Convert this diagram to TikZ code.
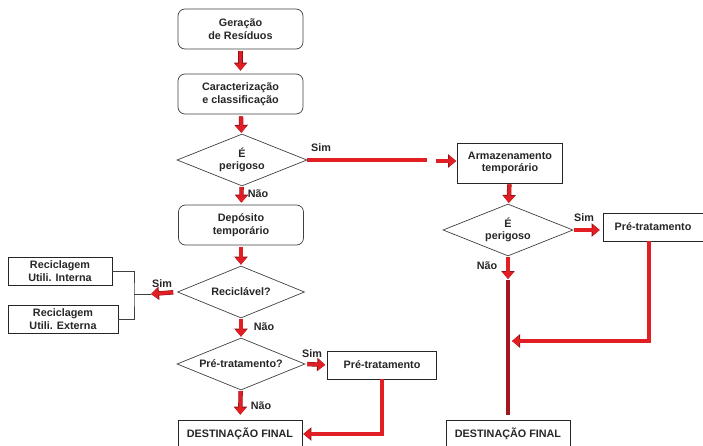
\documentclass[tikz,border=0pt]{standalone}
\usepackage{fontspec}
\setmainfont{Liberation Sans}
\usetikzlibrary{arrows.meta,shapes.geometric}
\definecolor{arrred}{RGB}{224,30,36}
\definecolor{arredge}{RGB}{140,18,22}
\definecolor{darkbar}{RGB}{160,24,30}

\tikzset{
  txt/.style={font=\bfseries\fontsize{10.8}{12.5}\selectfont, text=black!85},
  rbox/.style={txt, draw=black!75, line width=0.7pt, rounded corners=7pt, minimum width=125pt, minimum height=40pt, align=center, inner sep=1pt},
  sbox/.style={txt, draw=black!85, line width=0.7pt, minimum height=28pt, align=center, inner sep=1pt},
  dec/.style={txt, draw=black!75, line width=0.7pt, diamond, aspect=2.5, minimum width=130pt, minimum height=52pt, align=center, inner sep=0pt},
  redarr/.style={draw=arrred, line width=3.4pt, -{Triangle[length=7pt,width=11pt]},
    preaction={draw=arredge, line width=4.4pt, -{Triangle[length=8pt,width=13pt]}}},
  redbar/.style={draw=arrred, line width=3.4pt, preaction={draw=arredge, line width=4.4pt}},
}

\begin{document}
\begin{tikzpicture}[x=1pt,y=-1pt,line join=miter]
\useasboundingbox (0,0) rectangle (703,446);

% coluna da esquerda
\node[rbox] (ger) at (240.5,29) {Geração\\de Resíduos};
\node[rbox] (car) at (240.5,94) {Caracterização\\e classificação};
\node[dec] (per1) at (242,160) {É\\perigoso};
\node[rbox] (dep) at (241,225) {Depósito\\temporário};
\node[dec, minimum width=127pt] (recq) at (241,292) {Reciclável?};
\node[dec, minimum width=128pt] (preq) at (241,364) {Pré-tratamento?};
\node[sbox, minimum width=109pt] (pre1) at (382,365) {Pré-tratamento};
\node[sbox, minimum width=124pt, minimum height=28pt] (dest1) at (240,434) {DESTINAÇÃO FINAL};
\node[sbox, minimum width=104pt] (rin) at (60,271) {Reciclagem\\Utili. Interna};
\node[sbox, minimum width=110pt] (rex) at (63,319) {Reciclagem\\Utili. Externa};

% coluna da direita
\node[sbox, minimum width=105pt, minimum height=40pt] (arm) at (510,163) {Armazenamento\\temporário};
\node[dec] (per2) at (508,230) {É\\perigoso};
\node[sbox, minimum width=100pt] (pre2) at (653,227) {Pré-tratamento};
\node[sbox, minimum width=124pt, minimum height=28pt] (dest2) at (508,434) {DESTINAÇÃO FINAL};

% rotulos
\node[txt] (s1) at (321,148) {Sim};
\node[txt] (n1) at (258,194) {Não};
\node[txt] (s3) at (162,284) {Sim};
\node[txt] (n3) at (264,327) {Não};
\node[txt] (s4) at (312,354) {Sim};
\node[txt] (n4) at (261,406) {Não};
\node[txt] (s2) at (584,218) {Sim};
\node[txt] (n2) at (487,266) {Não};

\coordinate (barend) at (427,160);
\coordinate (armin) at (436,161);
\coordinate (brk) at (134,294);
\coordinate (simtail) at (151,294);
\coordinate (naoend) at (508,279);
\coordinate (mrg) at (512,341);

% setas
\draw[redarr, shorten <=2pt, shorten >=3pt] (ger) -- (car);
\draw[redarr, shorten <=2pt, shorten >=1pt] (car) -- (per1);
\draw[redarr, shorten <=1pt, shorten >=2pt] (per1) -- (dep);
\draw[redarr, shorten <=2pt, shorten >=1pt] (dep) -- (recq);
\draw[redarr, shorten <=1pt, shorten >=1pt] (recq) -- (preq);
\draw[redarr, shorten <=1pt, shorten >=5pt] (preq) -- (dest1);
\draw[redarr, shorten <=4pt] (recq.west) -- (simtail);
\draw[black!75, line width=0.7pt] (rin.east) -| (brk) |- (rex.east);
\draw[black!75, line width=0.7pt] (brk) -- (simtail);
\draw[redarr, shorten <=2pt, shorten >=2pt] (preq.east) -- (pre1.west);
\draw[redarr, shorten >=1pt] (pre1.south) |- (dest1.east);

\draw[redbar] (per1.east) -- (barend);
\draw[redarr, shorten >=1pt] (armin) -- (armin -| arm.west);
\draw[redarr, shorten <=1pt, shorten >=1pt] (arm) -- (per2);
\draw[redarr, shorten <=1pt, shorten >=3pt] (per2.east) -- (per2.east -| pre2.west);
\draw[redarr, shorten <=1pt] (per2.south) -- (naoend);
\draw[darkbar, line width=4pt, shorten <=1pt, shorten >=5pt] (naoend) -- (dest2);
\draw[redarr] (pre2.south -| 649,0) |- (mrg);
\end{tikzpicture}
\end{document}
